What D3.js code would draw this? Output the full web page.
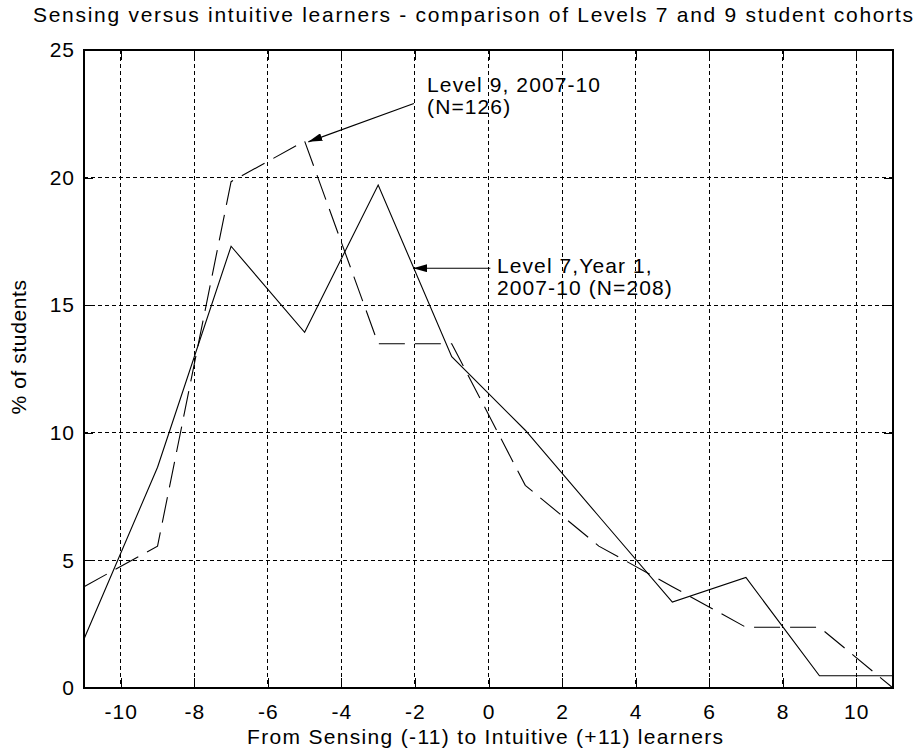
<!DOCTYPE html>
<html lang="en">
<head>
    <meta charset="UTF-8">
    <title>Sensing versus intuitive learners</title>
    <script src="https://d3js.org/d3.v7.min.js"></script>
    <style>
        body { margin: 0; background: #fff; }
        text { font-family: "Liberation Sans", Arial, sans-serif; fill: #000; }
    </style>
</head>
<body>
<svg id="chart" width="917" height="756"></svg>
<script>
    // bins on the sensing/intuitive scale
    const scores = [-11, -9, -7, -5, -3, -1, 1, 3, 5, 7, 9, 11];
    // % of students, Level 7 Year 1 (N=208)
    const level7 = [1.92, 8.65, 17.31, 13.94, 19.71, 12.98, 10.10, 6.73, 3.37, 4.33, 0.48, 0.48];
    // % of students, Level 9 (N=126)
    const level9 = [3.97, 5.56, 19.84, 21.43, 13.49, 13.49, 7.94, 5.56, 3.97, 2.38, 2.38, 0];

    const xTicks = [-10, -8, -6, -4, -2, 0, 2, 4, 6, 8, 10];
    const yTicks = [0, 5, 10, 15, 20, 25];

    // annotations: text lines + arrow tail/tip in data units
    const notes = [
        {lines: ["Level 9, 2007-10", "(N=126)"], tail: [-2.03, 22.9], tip: [-4.9, 21.4], tx: -1.67, ty: 23.35},
        {lines: ["Level 7,Year 1,", "2007-10 (N=208)"], tail: [0.05, 16.45], tip: [-2.05, 16.45], tx: 0.23, ty: 16.25}
    ];

    const svg = d3.select("#chart");
    const margin = {top: 50, right: 24, bottom: 68, left: 84};
    const width = 917 - margin.left - margin.right,
        height = 756 - margin.top - margin.bottom;

    const x = d3.scaleLinear().domain([-11, 11]).range([0, width]);
    const y = d3.scaleLinear().domain([0, 25]).range([height, 0]);

    svg.append("defs").append("marker")
        .attr("id", "head")
        .attr("viewBox", "0 0 14 8")
        .attr("refX", 14).attr("refY", 4)
        .attr("markerWidth", 14).attr("markerHeight", 8)
        .attr("markerUnits", "userSpaceOnUse")
        .attr("orient", "auto")
        .append("path").attr("d", "M0,0L14,4L0,8Z").attr("fill", "#000");

    const g = svg.append("g").attr("transform", `translate(${margin.left},${margin.top})`);

    // grid
    g.append("g").selectAll("line").data(xTicks).join("line")
        .attr("x1", d => x(d)).attr("x2", d => x(d))
        .attr("y1", 0).attr("y2", height)
        .attr("stroke", "#000").attr("stroke-dasharray", "4,3")
        .attr("shape-rendering", "crispEdges");
    g.append("g").selectAll("line").data(yTicks.filter(d => d > 0 && d < 25)).join("line")
        .attr("y1", d => y(d)).attr("y2", d => y(d))
        .attr("x1", 0).attr("x2", width)
        .attr("stroke", "#000").attr("stroke-dasharray", "4,3")
        .attr("shape-rendering", "crispEdges");

    // axes (ticks pointing inward, like matlab), plain hyphen minus
    const fmt = d => String(d);
    const xAxis = g.append("g").attr("transform", `translate(0,${height})`)
        .call(d3.axisBottom(x).tickValues(xTicks).tickSizeInner(-10).tickSizeOuter(0).tickPadding(16).tickFormat(fmt));
    const yAxis = g.append("g")
        .call(d3.axisLeft(y).tickValues(yTicks).tickSizeInner(-9).tickSizeOuter(0).tickPadding(9).tickFormat(fmt));
    g.append("g").call(d3.axisTop(x).tickValues(xTicks).tickSizeInner(-10).tickSizeOuter(0).tickFormat(""));
    g.append("g").attr("transform", `translate(${width},0)`)
        .call(d3.axisRight(y).tickValues(yTicks).tickSizeInner(-9).tickSizeOuter(0).tickFormat(""));

    g.selectAll(".domain").remove();
    g.selectAll(".tick line").attr("stroke", "#000").attr("shape-rendering", "crispEdges");
    g.selectAll(".tick text").attr("font-size", 21).attr("font-family", "Liberation Sans, Arial")
        .attr("letter-spacing", 1);

    g.append("rect").attr("width", width).attr("height", height)
        .attr("fill", "none").attr("stroke", "#000").attr("stroke-width", 1.3)
        .attr("shape-rendering", "crispEdges");

    // series
    const line = d3.line().x(d => x(d[0])).y(d => y(d[1]));
    g.append("path").datum(d3.zip(scores, level7))
        .attr("d", line).attr("fill", "none").attr("stroke", "#000").attr("stroke-width", 1.1);
    g.append("path").datum(d3.zip(scores, level9))
        .attr("d", line).attr("fill", "none").attr("stroke", "#000").attr("stroke-width", 1.1)
        .attr("stroke-dasharray", "26,10");

    // annotations
    notes.forEach(n => {
        g.append("line")
            .attr("x1", x(n.tail[0])).attr("y1", y(n.tail[1]))
            .attr("x2", x(n.tip[0])).attr("y2", y(n.tip[1]))
            .attr("stroke", "#000").attr("stroke-width", 1.1)
            .attr("marker-end", "url(#head)");
        const t = g.append("text").attr("x", x(n.tx)).attr("y", y(n.ty))
            .attr("font-size", 21).attr("letter-spacing", 1.1);
        n.lines.forEach((s, i) => t.append("tspan").attr("x", x(n.tx)).attr("dy", i ? 22 : 0).text(s));
    });

    // titles
    svg.append("text").attr("x", 33).attr("y", 22).attr("font-size", 21)
        .attr("textLength", 880).attr("lengthAdjust", "spacing")
        .text("Sensing versus intuitive learners - comparison of Levels 7 and 9 student cohorts");
    svg.append("text").attr("x", 247).attr("y", 744).attr("font-size", 21)
        .attr("textLength", 476).attr("lengthAdjust", "spacing")
        .text("From Sensing (-11) to Intuitive (+11) learners");
    svg.append("text").attr("transform", `translate(26,${margin.top + height / 2 - 22}) rotate(-90)`)
        .attr("text-anchor", "middle").attr("font-size", 21).attr("letter-spacing", 0.6)
        .text("% of students");
</script>
</body>
</html>
